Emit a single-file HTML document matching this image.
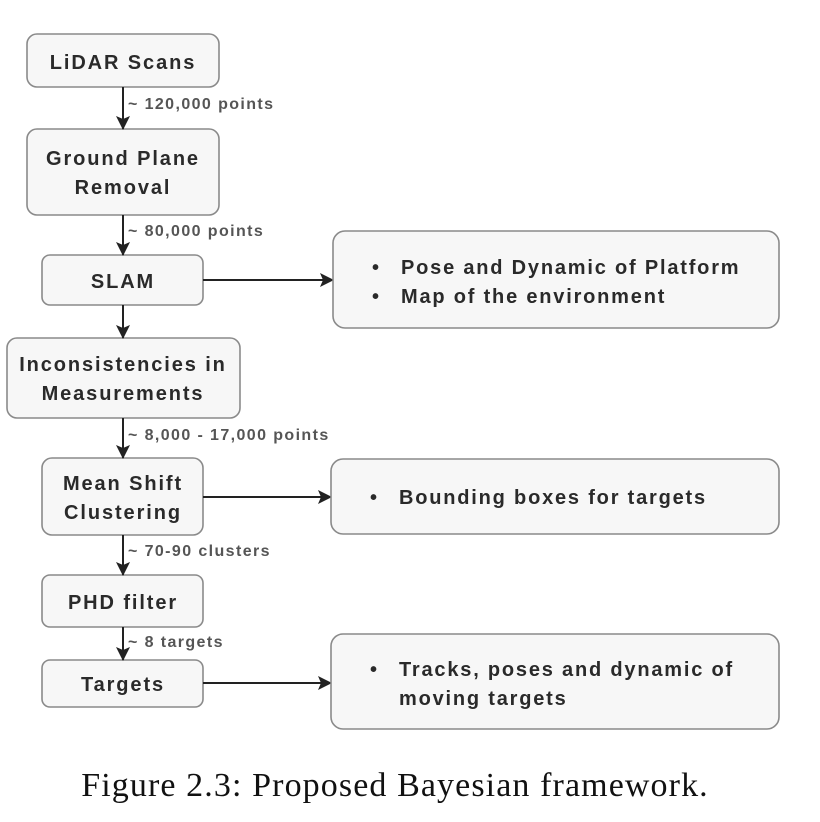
<!DOCTYPE html>
<html><head><meta charset="utf-8"><style>
html,body{margin:0;padding:0;background:#fff;}
svg{display:block;}
.b{fill:#f7f7f7;stroke:#8a8a8a;stroke-width:1.6;}
.t{font-family:"Liberation Sans",sans-serif;font-size:20px;font-weight:bold;fill:#2a2a2a;text-anchor:middle;letter-spacing:1.9px;}
.r{font-family:"Liberation Sans",sans-serif;font-size:20px;font-weight:bold;fill:#2a2a2a;letter-spacing:1.8px;}
.l{font-family:"Liberation Sans",sans-serif;font-size:16px;font-weight:bold;fill:#555;letter-spacing:1.4px;}
.ln{stroke:#222;stroke-width:2;fill:none;}
</style></head><body>
<svg width="820" height="822" viewBox="0 0 820 822">
<defs><marker id="a" markerWidth="14" markerHeight="14" refX="13" refY="7" orient="auto" markerUnits="userSpaceOnUse"><path d="M0,0 L14,7 L0,14 L3,7 z" fill="#222"/></marker></defs>
<rect class="b" x="27" y="34" width="192" height="53" rx="10"/>
<text class="t" x="123" y="69">LiDAR Scans</text>
<rect class="b" x="27" y="129" width="192" height="86" rx="10"/>
<text class="t" x="123" y="165">Ground Plane</text>
<text class="t" x="123" y="194">Removal</text>
<rect class="b" x="42" y="255" width="161" height="50" rx="8"/>
<text class="t" x="123" y="288">SLAM</text>
<rect class="b" x="7" y="338" width="233" height="80" rx="10"/>
<text class="t" x="123" y="371">Inconsistencies in</text>
<text class="t" x="123" y="400">Measurements</text>
<rect class="b" x="42" y="458" width="161" height="77" rx="10"/>
<text class="t" x="123" y="490">Mean Shift</text>
<text class="t" x="123" y="519">Clustering</text>
<rect class="b" x="42" y="575" width="161" height="52" rx="8"/>
<text class="t" x="123" y="609">PHD filter</text>
<rect class="b" x="42" y="660" width="161" height="47" rx="8"/>
<text class="t" x="123" y="691">Targets</text>

<line class="ln" x1="123" y1="87" x2="123" y2="129" marker-end="url(#a)"/>
<text class="l" x="128" y="109">~ 120,000 points</text>
<line class="ln" x1="123" y1="215" x2="123" y2="255" marker-end="url(#a)"/>
<text class="l" x="128" y="236">~ 80,000 points</text>
<line class="ln" x1="123" y1="305" x2="123" y2="338" marker-end="url(#a)"/>
<line class="ln" x1="123" y1="418" x2="123" y2="458" marker-end="url(#a)"/>
<text class="l" x="128" y="440">~ 8,000 - 17,000 points</text>
<line class="ln" x1="123" y1="535" x2="123" y2="575" marker-end="url(#a)"/>
<text class="l" x="128" y="556">~ 70-90 clusters</text>
<line class="ln" x1="123" y1="627" x2="123" y2="660" marker-end="url(#a)"/>
<text class="l" x="128" y="647">~ 8 targets</text>

<line class="ln" x1="203" y1="280" x2="333" y2="280" marker-end="url(#a)"/>
<line class="ln" x1="203" y1="497" x2="331" y2="497" marker-end="url(#a)"/>
<line class="ln" x1="203" y1="683" x2="331" y2="683" marker-end="url(#a)"/>

<rect class="b" x="333" y="231" width="446" height="97" rx="12"/>
<text class="r" x="372" y="274">•</text><text class="r" x="401" y="274">Pose and Dynamic of Platform</text>
<text class="r" x="372" y="303">•</text><text class="r" x="401" y="303">Map of the environment</text>
<rect class="b" x="331" y="459" width="448" height="75" rx="12"/>
<text class="r" x="370" y="504">•</text><text class="r" x="399" y="504">Bounding boxes for targets</text>
<rect class="b" x="331" y="634" width="448" height="95" rx="12"/>
<text class="r" x="370" y="676">•</text><text class="r" x="399" y="676">Tracks, poses and dynamic of</text>
<text class="r" x="399" y="705">moving targets</text>

<text x="395" y="796" font-family="Liberation Serif,serif" font-size="34" fill="#111" text-anchor="middle" letter-spacing="1.1">Figure 2.3: Proposed Bayesian framework.</text>
</svg>
</body></html>
